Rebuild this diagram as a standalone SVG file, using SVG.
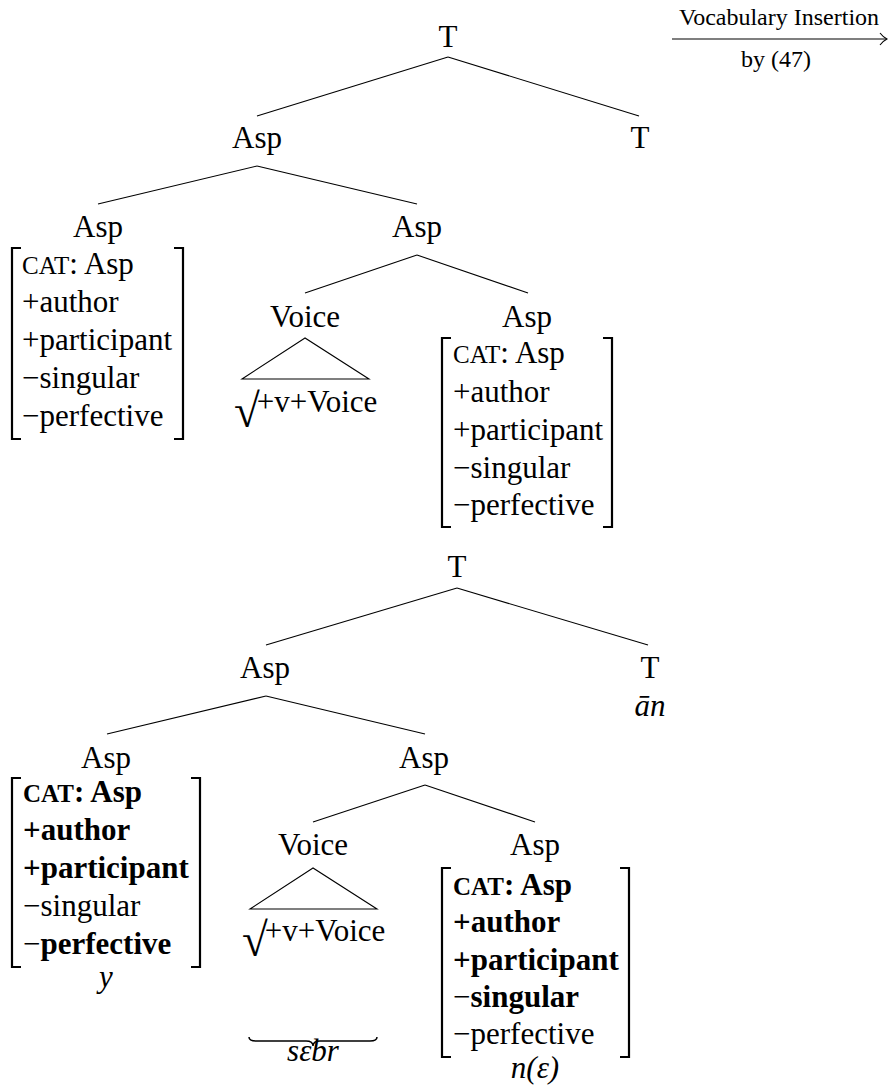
<svg xmlns="http://www.w3.org/2000/svg" width="888" height="1089" viewBox="0 0 888 1089">
  <style>
    text { font-family: "Liberation Serif", "Times New Roman", serif; font-size: 31px; fill: #000; }
    .c { text-anchor: middle; }
    .sm { font-size: 24px; }
    .sc { font-size: 25px; }
    .rad { font-size: 47px; }
    .b { font-weight: bold; }
    .it { font-style: italic; }
    .edge { stroke: #000; stroke-width: 1.1; fill: none; }
    .brace { stroke: #000; stroke-width: 1.5; fill: none; }
    .brk { stroke: #000; stroke-width: 2.2; fill: none; }
    .tri { stroke: #000; stroke-width: 1.1; fill: none; }
  </style>

  <!-- derivation arrow -->
  <g id="arrow">
    <text class="sm c" x="779" y="25">Vocabulary Insertion</text>
    <line class="edge" x1="672" y1="39" x2="886" y2="39"/>
    <path class="edge" d="M880,33 Q883,37 887,39 Q883,41 880,45"/>
    <text class="sm c" x="776" y="67">by (47)</text>
  </g>

  <!-- tree edges -->
  <g id="connectors">
    <!-- first tree -->
    <line class="edge" x1="448" y1="57" x2="257" y2="116"/>
    <line class="edge" x1="448" y1="57" x2="639" y2="116"/>
    <line class="edge" x1="257" y1="166" x2="98" y2="204"/>
    <line class="edge" x1="257" y1="166" x2="417" y2="204"/>
    <line class="edge" x1="417" y1="255" x2="305" y2="293"/>
    <line class="edge" x1="417" y1="255" x2="528" y2="293"/>
    <!-- second tree -->
    <line class="edge" x1="457" y1="588" x2="266" y2="645"/>
    <line class="edge" x1="457" y1="588" x2="648" y2="645"/>
    <line class="edge" x1="266" y1="696" x2="107" y2="734"/>
    <line class="edge" x1="266" y1="696" x2="425" y2="734"/>
    <line class="edge" x1="425" y1="785" x2="313" y2="822"/>
    <line class="edge" x1="425" y1="785" x2="535" y2="822"/>
  </g>

  <!-- ===== first tree ===== -->
  <g id="t1-T">
    <text class="c" x="448" y="47">T</text>
  </g>
  <g id="t1-Asp">
    <text class="c" x="257" y="148">Asp</text>
  </g>
  <g id="t1-T-head">
    <text class="c" x="640" y="148">T</text>
  </g>
  <g id="t1-Asp-spec">
    <text class="c" x="98" y="237">Asp</text>
    <path class="brk" d="M21,248 H12 V439 H21"/>
    <path class="brk" d="M174,248 H183 V439 H174"/>
    <text x="22" y="274"><tspan class="sc">CAT</tspan>: Asp</text>
    <text x="22" y="312">+author</text>
    <text x="22" y="350">+participant</text>
    <text x="22" y="388">−singular</text>
    <text x="22" y="426">−perfective</text>
  </g>
  <g id="t1-Asp-bar">
    <text class="c" x="417" y="237">Asp</text>
  </g>
  <g id="t1-Voice">
    <text class="c" x="305" y="327">Voice</text>
    <path class="tri" d="M305,338 L242,379 L369,379 Z"/>
    <text x="234" y="412"><tspan class="rad" dy="15">√</tspan><tspan dx="-3" dy="-15">+v+Voice</tspan></text>
  </g>
  <g id="t1-Asp-head">
    <text class="c" x="527" y="327">Asp</text>
    <path class="brk" d="M451,338 H442 V527 H451"/>
    <path class="brk" d="M603,338 H612 V527 H603"/>
    <text x="453" y="363"><tspan class="sc">CAT</tspan>: Asp</text>
    <text x="453" y="402">+author</text>
    <text x="453" y="440">+participant</text>
    <text x="453" y="478">−singular</text>
    <text x="453" y="515">−perfective</text>
  </g>

  <!-- ===== second tree ===== -->
  <g id="t2-T">
    <text class="c" x="457" y="577">T</text>
  </g>
  <g id="t2-Asp">
    <text class="c" x="265" y="678">Asp</text>
  </g>
  <g id="t2-T-head">
    <text class="c" x="650" y="678">T</text>
    <text class="c it" x="650" y="716">ān</text>
  </g>
  <g id="t2-Asp-spec">
    <text class="c" x="106" y="768">Asp</text>
    <path class="brk" d="M21,778 H12 V967 H21"/>
    <path class="brk" d="M191,778 H200 V967 H191"/>
    <text class="b" x="23" y="802"><tspan class="sc">CAT</tspan>: Asp</text>
    <text class="b" x="23" y="840">+author</text>
    <text class="b" x="23" y="878">+participant</text>
    <text x="23" y="916">−singular</text>
    <text x="23" y="954">−<tspan class="b">perfective</tspan></text>
    <text class="c it" x="106" y="987">y</text>
  </g>
  <g id="t2-Asp-bar">
    <text class="c" x="424" y="768">Asp</text>
  </g>
  <g id="t2-Voice">
    <text class="c" x="313" y="855">Voice</text>
    <path class="tri" d="M313,868 L250,909 L377,909 Z"/>
    <text x="242" y="941"><tspan class="rad" dy="15">√</tspan><tspan dx="-3" dy="-15">+v+Voice</tspan></text>
    <path class="brace" d="M249,1037 Q249,1041 256,1041 H306 Q313,1041 313,1046 Q313,1041 320,1041 H370 Q377,1041 377,1037"/>
    <text class="c it" x="313" y="1061">sεbr</text>
  </g>
  <g id="t2-Asp-head">
    <text class="c" x="535" y="855">Asp</text>
    <path class="brk" d="M451,868 H442 V1057 H451"/>
    <path class="brk" d="M620,868 H629 V1057 H620"/>
    <text class="b" x="453" y="895"><tspan class="sc">CAT</tspan>: Asp</text>
    <text class="b" x="453" y="932">+author</text>
    <text class="b" x="453" y="970">+participant</text>
    <text x="453" y="1007">−<tspan class="b">singular</tspan></text>
    <text x="453" y="1044">−perfective</text>
    <text class="c it" x="535" y="1078">n(ε)</text>
  </g>
</svg>
